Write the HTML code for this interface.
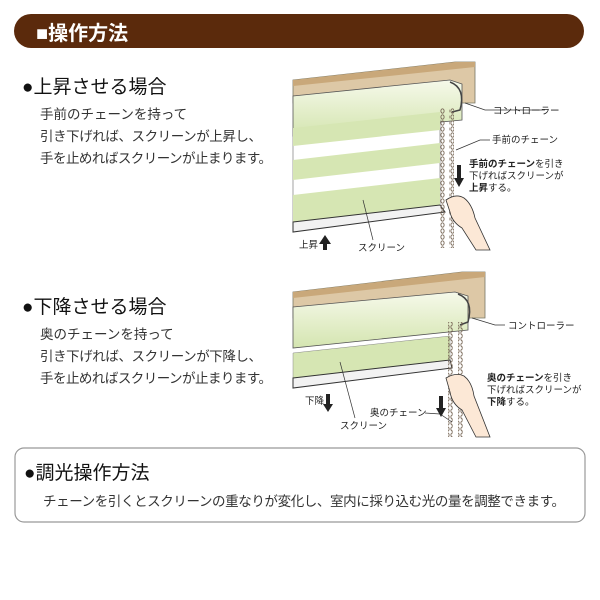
<!DOCTYPE html>
<html><head><meta charset="utf-8"><style>
body{margin:0;width:600px;height:600px;background:#fff;overflow:hidden;font-family:"Liberation Sans","Noto Sans CJK JP",sans-serif}
svg{position:absolute;left:0;top:0}
</style></head><body>
<svg width="600" height="600" viewBox="0 0 600 600" font-family="Liberation Sans, Noto Sans CJK JP, sans-serif">
<defs>
<linearGradient id="rg" x1="0" y1="0" x2="0" y2="1"><stop offset="0" stop-color="#f6f9ea"/><stop offset="1" stop-color="#d4e5b0"/></linearGradient>
<pattern id="ch" width="5" height="6" patternUnits="userSpaceOnUse"><ellipse cx="2.5" cy="3" rx="1.6" ry="2.2" fill="none" stroke="#776655" stroke-width="0.9"/></pattern>
</defs>
<rect x="14" y="14" width="570" height="34" rx="17" fill="#5b2a0c"/>
<text x="36" y="40" font-size="20" font-weight="bold" fill="#fff">■操作方法</text>

<text x="22" y="93" font-size="19" fill="#111">●上昇させる場合</text>
<g font-size="13.5" fill="#333">
<text x="40" y="119">手前のチェーンを持って</text>
<text x="40" y="141" textLength="222">引き下げれば、スクリーンが上昇し、</text>
<text x="40" y="163" textLength="232">手を止めればスクリーンが止まります。</text>
</g>

<!-- diagram 1 -->
<g>
<polygon points="293,80 455,62 475,62 475,103 293,103" fill="#ddc8a6" stroke="#776" stroke-width="0.8"/>
<polygon points="293,80 455,62 475,62 475,67 293,86" fill="#c9a87a"/>
<polygon points="293,96 450,80 462,84 462,120 293,136" fill="url(#rg)" stroke="#555" stroke-width="0.8"/>
<polygon points="293,136 440,120 440,205 293,222" fill="#fff" stroke="#666" stroke-width="0.6"/>
<polygon points="293,128 440,112 440,130 293,146" fill="#d6e6b3"/>
<polygon points="293,160 440,143 440,163 293,180" fill="#d6e6b3"/>
<polygon points="293,195 440,178 440,205 293,222" fill="#d6e6b3"/>
<polygon points="293,222 440,205 445,212 293,232" fill="#f2f2f2" stroke="#333" stroke-width="1"/>
<path d="M450 82 Q466 88 460 110 L452 112" fill="none" stroke="#444" stroke-width="1.5"/>
<rect x="440" y="108" width="5" height="140" fill="url(#ch)"/>
<rect x="449" y="108" width="5" height="140" fill="url(#ch)"/>
<path d="M446 200 Q456 193 464 198 Q472 204 475 218 L490 250 L476 250 L462 228 Q452 222 450 212 Z" fill="#fce8d6" stroke="#333" stroke-width="0.8"/>
<polyline points="465,103 485,110 545,110" fill="none" stroke="#333" stroke-width="0.7"/>
<polyline points="456,150 480,140 490,140" fill="none" stroke="#333" stroke-width="0.7"/>
<line x1="363" y1="200" x2="373" y2="240" stroke="#333" stroke-width="0.7"/>
<polygon points="457,165 461,165 461,178 464,178 459,187 454,178 457,178" fill="#222"/>
<polygon points="323,238 327,238 327,250 323,250 323,244 319,244 325,235 331,244 327,244" fill="#222"/>
<g font-size="9.5" fill="#222">
<text x="493" y="114">コントローラー</text>
<text x="492" y="143">手前のチェーン</text>
<text x="469" y="167"><tspan font-weight="bold">手前のチェーン</tspan>を引き</text>
<text x="469" y="179">下げればスクリーンが</text>
<text x="469" y="191"><tspan font-weight="bold">上昇</tspan>する。</text>
<text x="299" y="248">上昇</text>
<text x="358" y="251">スクリーン</text>
</g>
</g>

<text x="22" y="313" font-size="19" fill="#111">●下降させる場合</text>
<g font-size="13.5" fill="#333">
<text x="40" y="339">奥のチェーンを持って</text>
<text x="40" y="361" textLength="222">引き下げれば、スクリーンが下降し、</text>
<text x="40" y="383" textLength="232">手を止めればスクリーンが止まります。</text>
</g>

<!-- diagram 2 -->
<g>
<polygon points="293,292 462,272 485,272 485,318 293,318" fill="#ddc8a6" stroke="#776" stroke-width="0.8"/>
<polygon points="293,292 462,272 485,272 485,277 293,298" fill="#c9a87a"/>
<polygon points="293,307 455,292 468,296 468,330 293,348" fill="url(#rg)" stroke="#555" stroke-width="0.8"/>
<polygon points="293,353 450,336 450,360 293,378" fill="#d6e6b3" stroke="#888" stroke-width="0.5"/>
<polygon points="293,378 450,360 452,368 293,388" fill="#f2f2f2" stroke="#333" stroke-width="1"/>
<path d="M458 294 Q474 300 468 322 L460 325" fill="none" stroke="#444" stroke-width="1.5"/>
<rect x="448" y="322" width="5" height="115" fill="url(#ch)"/>
<rect x="458" y="322" width="5" height="115" fill="url(#ch)"/>
<path d="M446 378 Q456 372 464 376 Q472 382 474 396 L490 437 L476 437 L462 410 Q452 404 450 392 Z" fill="#fce8d6" stroke="#333" stroke-width="0.8"/>
<polyline points="472,318 495,325 505,325" fill="none" stroke="#333" stroke-width="0.7"/>
<line x1="340" y1="362" x2="355" y2="418" stroke="#333" stroke-width="0.7"/>
<polyline points="425,413 440,414 452,422" fill="none" stroke="#333" stroke-width="0.7"/>
<polygon points="326,394 330,394 330,404 333,404 328,412 323,404 326,404" fill="#222"/>
<polygon points="439,396 443,396 443,408 446,408 441,417 436,408 439,408" fill="#222"/>
<g font-size="9.5" fill="#222">
<text x="508" y="329">コントローラー</text>
<text x="487" y="381"><tspan font-weight="bold">奥のチェーン</tspan>を引き</text>
<text x="487" y="393">下げればスクリーンが</text>
<text x="487" y="405"><tspan font-weight="bold">下降</tspan>する。</text>
<text x="305" y="404">下降</text>
<text x="370" y="416">奥のチェーン</text>
<text x="340" y="429">スクリーン</text>
</g>
</g>

<rect x="15" y="448" width="570" height="74" rx="9" fill="#fff" stroke="#999" stroke-width="1.2"/>
<text x="24" y="479" font-size="19" fill="#111">●調光操作方法</text>
<text x="43" y="506" font-size="13.5" fill="#333" textLength="522">チェーンを引くとスクリーンの重なりが変化し、室内に採り込む光の量を調整できます。</text>
</svg>
</body></html>
